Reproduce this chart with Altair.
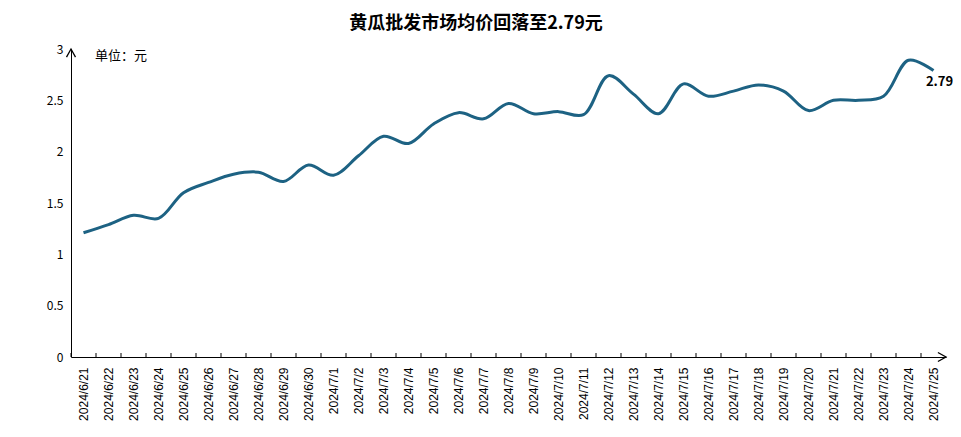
import altair as alt
import pandas as pd

dates = ["2024/6/21", "2024/6/22", "2024/6/23", "2024/6/24", "2024/6/25", "2024/6/26",
         "2024/6/27", "2024/6/28", "2024/6/29", "2024/6/30", "2024/7/1", "2024/7/2",
         "2024/7/3", "2024/7/4", "2024/7/5", "2024/7/6", "2024/7/7", "2024/7/8",
         "2024/7/9", "2024/7/10", "2024/7/11", "2024/7/12", "2024/7/13", "2024/7/14",
         "2024/7/15", "2024/7/16", "2024/7/17", "2024/7/18", "2024/7/19", "2024/7/20",
         "2024/7/21", "2024/7/22", "2024/7/23", "2024/7/24", "2024/7/25"]
prices = [1.21, 1.29, 1.38, 1.35, 1.60, 1.70, 1.78, 1.80, 1.71, 1.87, 1.77, 1.96,
          2.15, 2.08, 2.27, 2.38, 2.32, 2.47, 2.37, 2.39, 2.36, 2.74, 2.56, 2.37,
          2.66, 2.54, 2.59, 2.65, 2.59, 2.40, 2.50, 2.50, 2.54, 2.89, 2.79]
y_ticks = [0, 0.5, 1, 1.5, 2, 2.5, 3]
title_text = "黄瓜批发市场均价回落至2.79元"
unit_text = "单位：元"

W, H = 875, 308
COLOR = "#1d6283"
CJK = "Noto Sans CJK SC"

df = pd.DataFrame({"date": dates, "price": prices})

xscale = alt.Scale(type="band", domain=dates, paddingInner=0, paddingOuter=0)
yscale = alt.Scale(domain=[0, 3], nice=False)

base = alt.Chart(df)

line = base.mark_line(interpolate="catmull-rom", color=COLOR, strokeWidth=3).encode(
    x=alt.X("date:N", scale=xscale, sort=dates, bandPosition=0.5,
            axis=alt.Axis(title=None, labelAngle=270, labelFontSize=12, labelFont="Liberation Sans",
                          labelColor="#000", ticks=False, labelPadding=10,
                          domainColor="#000", domainWidth=1, labelAlign="right",
                          labelBaseline="middle")),
    y=alt.Y("price:Q", scale=yscale,
            axis=alt.Axis(title=None, values=y_ticks, format="~g", ticks=False, grid=False,
                          labelFontSize=12, labelFont=CJK, labelColor="#000",
                          labelPadding=8, domainColor="#000", domainWidth=1)),
)

ticks = base.mark_rule(color="#000", strokeWidth=1).encode(
    x=alt.X("date:N", scale=xscale, sort=dates, bandPosition=0),
    y=alt.value(H - 4),
    y2=alt.value(H),
)

end_label = base.mark_text(fontWeight="bold", fontSize=13, font=CJK, color="#000",
                           dx=6, dy=11, align="center", baseline="middle").encode(
    x=alt.X("date:N", scale=xscale, sort=dates, bandPosition=0.5),
    y=alt.Y("price:Q", scale=yscale),
    text=alt.Text("price:Q", format=".2f"),
).transform_filter(alt.datum.date == dates[-1])

txt = alt.Chart(pd.DataFrame({"t": [title_text]}))
title = txt.mark_text(fontSize=18, fontWeight="bold", font=CJK, color="#000",
                      align="center", baseline="middle").encode(
    x=alt.value(405), y=alt.value(-25), text="t:N")

unit = alt.Chart(pd.DataFrame({"t": [unit_text]})).mark_text(
    fontSize=13, font=CJK, color="#000", align="left", baseline="middle").encode(
    x=alt.value(24), y=alt.value(7), text="t:N")

arrow_df = alt.Chart(pd.DataFrame({"a": [1]}))
y_arrow = arrow_df.mark_point(shape="M-0.5,0.9 L0,0 L0.5,0.9", filled=False, size=324,
                              stroke="#000", strokeWidth=1.3, opacity=1).encode(
    x=alt.value(0), y=alt.value(0))
x_arrow = arrow_df.mark_point(shape="M-0.9,-0.5 L0,0 L-0.9,0.5", filled=False, size=324,
                              stroke="#000", strokeWidth=1.3, opacity=1).encode(
    x=alt.value(W), y=alt.value(H))

chart = alt.layer(line, ticks, end_label, title, unit, y_arrow, x_arrow).properties(
    width=W, height=H,
    padding={"left": 63, "top": 41, "right": 7, "bottom": 72},
    autosize=alt.AutoSizeParams(type="none"),
    background="white",
).configure_view(stroke=None)

chart.save("out.html", embed_options={"renderer": "svg", "actions": False})
